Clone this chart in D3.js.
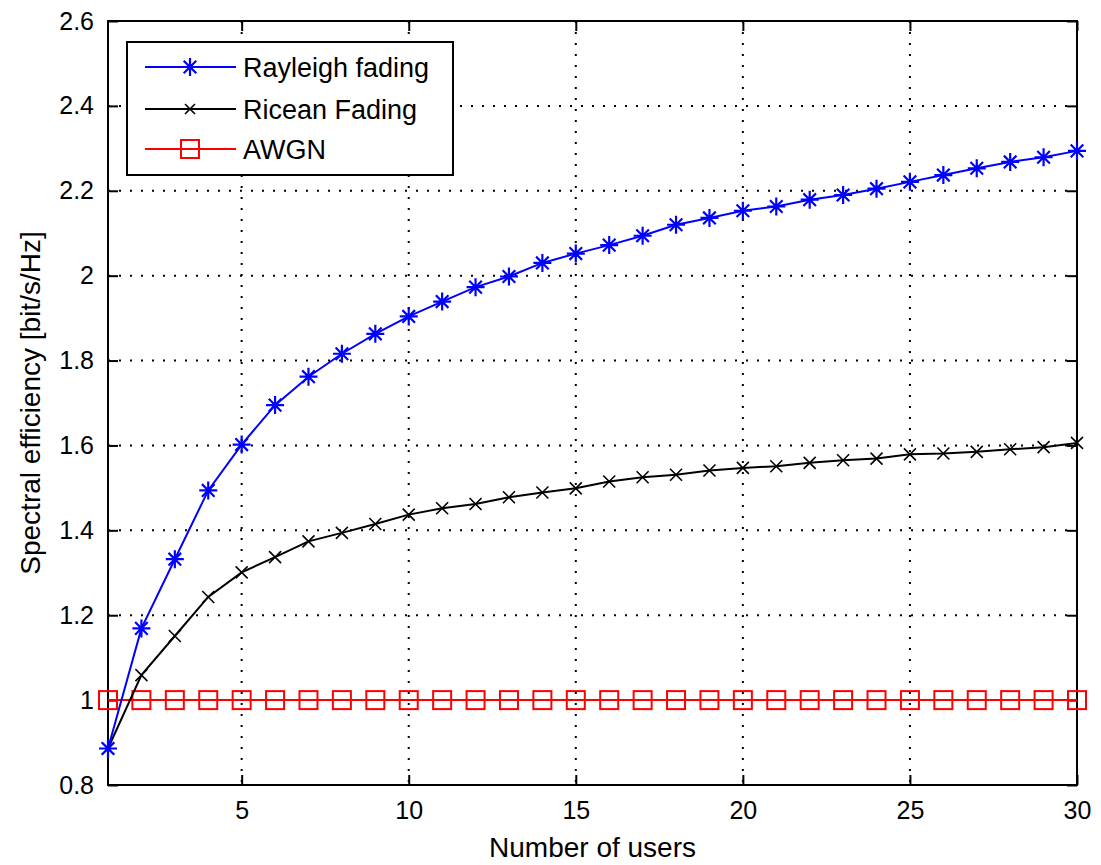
<!DOCTYPE html>
<html>
<head>
<meta charset="utf-8">
<script src="https://cdn.jsdelivr.net/npm/d3@7/dist/d3.min.js"></script>
<style>
  html, body { margin: 0; padding: 0; background: #fff; }
  svg { display: block; }
  text { font-family: "Liberation Sans", Arial, sans-serif; fill: #000; }
</style>
</head>
<body>
<svg id="chart" width="1101" height="865"></svg>
<script>
// ---- data ----
const users = [1,2,3,4,5,6,7,8,9,10,11,12,13,14,15,16,17,18,19,20,21,22,23,24,25,26,27,28,29,30];
const rayleigh = [0.886,1.169,1.332,1.494,1.602,1.695,1.762,1.816,1.863,1.904,1.939,1.973,1.998,2.030,2.052,2.072,2.094,2.120,2.136,2.153,2.163,2.179,2.190,2.205,2.221,2.237,2.253,2.268,2.279,2.294];
const ricean = [0.886,1.059,1.151,1.243,1.301,1.337,1.374,1.394,1.415,1.437,1.452,1.462,1.478,1.489,1.499,1.515,1.525,1.531,1.541,1.547,1.551,1.559,1.565,1.569,1.579,1.581,1.585,1.591,1.596,1.606];
const awgn = [1,1,1,1,1,1,1,1,1,1,1,1,1,1,1,1,1,1,1,1,1,1,1,1,1,1,1,1,1,1];
const xTicks = [5,10,15,20,25,30];
const yTicks = [0.8,1.0,1.2,1.4,1.6,1.8,2.0,2.2,2.4,2.6];
const seriesNames = ["Rayleigh fading","Ricean Fading","AWGN"];
const xLabel = "Number of users";
const yLabel = "Spectral efficiency [bit/s/Hz]";

// ---- layout ----
const L = 108, R = 1077, T = 21, B = 785;
const svg = d3.select("#chart");
const x = d3.scaleLinear().domain([1,30]).range([L,R]);
const y = d3.scaleLinear().domain([0.8,2.6]).range([B,T]);

// grid
const grid = svg.append("g");
grid.selectAll("line.gx").data(xTicks.filter(v => v < 30)).join("line")
  .attr("x1", d => x(d)).attr("x2", d => x(d)).attr("y1", T).attr("y2", B)
  .attr("stroke", "#000").attr("stroke-width", 2).attr("stroke-dasharray", "2,9");
grid.selectAll("line.gy").data(yTicks.filter(v => v > 0.8 && v < 2.6)).join("line")
  .attr("x1", L).attr("x2", R).attr("y1", d => y(d)).attr("y2", d => y(d))
  .attr("stroke", "#000").attr("stroke-width", 2).attr("stroke-dasharray", "2,9");

// axes (ticks inside, all four sides)
const tl = 10;
const fmtY = d => (Math.round(d*10)/10 === 1 || Math.round(d*10)/10 === 2) ? String(Math.round(d)) : d.toFixed(1);
const axB = svg.append("g").attr("transform", `translate(0,${B})`)
  .call(d3.axisBottom(x).tickValues(xTicks).tickSize(-tl).tickSizeOuter(0).tickPadding(16));
const axT = svg.append("g").attr("transform", `translate(0,${T})`)
  .call(d3.axisTop(x).tickValues(xTicks).tickSize(-tl).tickSizeOuter(0).tickFormat(""));
const axL = svg.append("g").attr("transform", `translate(${L},0)`)
  .call(d3.axisLeft(y).tickValues(yTicks).tickSize(-tl).tickSizeOuter(0).tickPadding(14).tickFormat(fmtY));
const axR = svg.append("g").attr("transform", `translate(${R},0)`)
  .call(d3.axisRight(y).tickValues(yTicks).tickSize(-tl).tickSizeOuter(0).tickFormat(""));
[axB, axT, axL, axR].forEach(a => {
  a.select(".domain").remove();
  a.selectAll(".tick line").attr("stroke", "#000").attr("stroke-width", 2);
  a.selectAll(".tick text").attr("font-size", 25).attr("font-family", "Liberation Sans, Arial, sans-serif").attr("fill", "#000");
});
axB.selectAll(".tick text").attr("dy", "0.72em");
svg.append("rect").attr("x", L).attr("y", T).attr("width", R-L).attr("height", B-T)
  .attr("fill", "none").attr("stroke", "#000").attr("stroke-width", 2);

// labels
svg.append("text").attr("x", (L+R)/2).attr("y", 857).attr("text-anchor", "middle")
  .attr("font-size", 28).text(xLabel);
svg.append("text").attr("transform", `translate(40,${(T+B)/2}) rotate(-90)`)
  .attr("text-anchor", "middle").attr("font-size", 28).text(yLabel);

// marker shapes
function star(g, cx, cy, s, color) {
  const d = `M${cx-s},${cy}L${cx+s},${cy}M${cx},${cy-s}L${cx},${cy+s}` +
            `M${cx-s*0.7},${cy-s*0.7}L${cx+s*0.7},${cy+s*0.7}M${cx-s*0.7},${cy+s*0.7}L${cx+s*0.7},${cy-s*0.7}`;
  g.append("path").attr("d", d).attr("stroke", color).attr("stroke-width", 2.2).attr("fill", "none");
}
function cross(g, cx, cy, s, color) {
  const d = `M${cx-s},${cy-s}L${cx+s},${cy+s}M${cx-s},${cy+s}L${cx+s},${cy-s}`;
  g.append("path").attr("d", d).attr("stroke", color).attr("stroke-width", 1.6).attr("fill", "none");
}
function square(g, cx, cy, s, color) {
  g.append("rect").attr("x", cx-s).attr("y", cy-s).attr("width", 2*s).attr("height", 2*s)
    .attr("fill", "none").attr("stroke", color).attr("stroke-width", 2);
}

const line = d3.line().x((d,i) => x(users[i])).y(d => y(d));
const series = [
  {vals: awgn, color: "#ff0000", w: 2, mk: square, ms: 9},
  {vals: ricean, color: "#000000", w: 2, mk: cross, ms: 6},
  {vals: rayleigh, color: "#0000ff", w: 2, mk: star, ms: 9}
];
series.forEach(s => {
  const g = svg.append("g");
  g.append("path").datum(s.vals).attr("d", line).attr("fill", "none")
    .attr("stroke", s.color).attr("stroke-width", s.w);
  s.vals.forEach((v,i) => s.mk(g, x(users[i]), y(v), s.ms, s.color));
});

// legend
const lg = svg.append("g");
lg.append("rect").attr("x", 127).attr("y", 42).attr("width", 326).attr("height", 133)
  .attr("fill", "#fff").attr("stroke", "#000").attr("stroke-width", 2);
const legendItems = [
  {name: seriesNames[0], color: "#0000ff", mk: star, ms: 9},
  {name: seriesNames[1], color: "#000000", mk: cross, ms: 5},
  {name: seriesNames[2], color: "#ff0000", mk: square, ms: 9}
];
const rowY = [67, 109, 149];
legendItems.forEach((it, i) => {
  const cy = rowY[i];
  lg.append("line").attr("x1", 145).attr("x2", 236).attr("y1", cy).attr("y2", cy)
    .attr("stroke", it.color).attr("stroke-width", 2);
  it.mk(lg, 190, cy, it.ms, it.color);
  lg.append("text").attr("x", 243).attr("y", cy).attr("dy", "0.36em")
    .attr("font-size", 27).text(it.name);
});
</script>
</body>
</html>
